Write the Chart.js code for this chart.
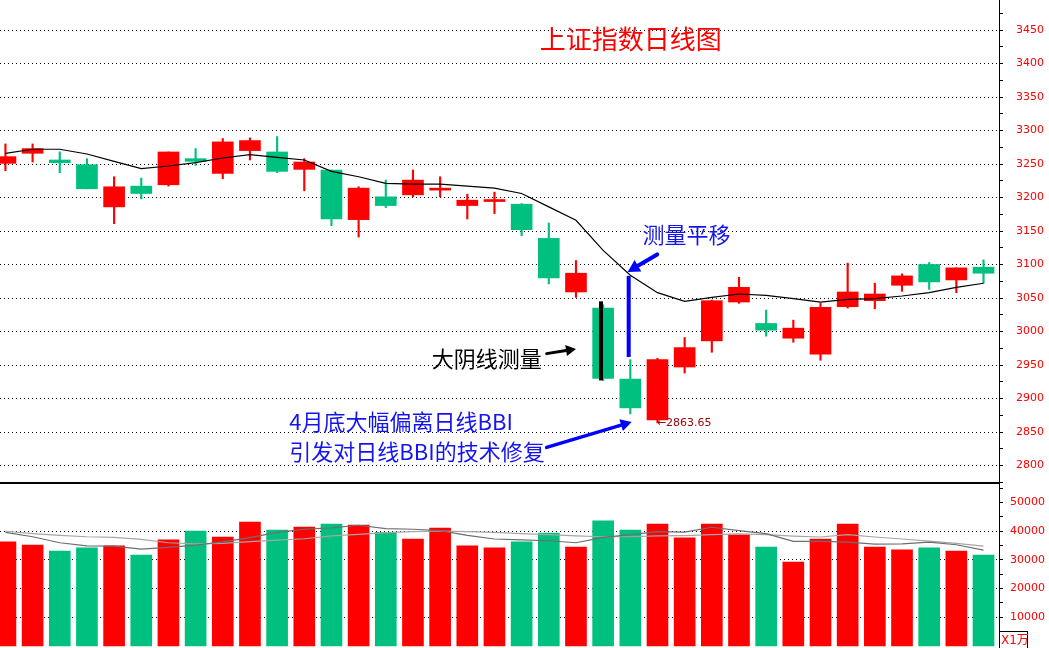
<!DOCTYPE html>
<html>
<head>
<meta charset="utf-8">
<script src="https://cdn.jsdelivr.net/npm/chart.js@4.4.1/dist/chart.umd.min.js"></script>
<style>
  html, body { margin: 0; padding: 0; background: #fff; }
  #wrap { position: relative; width: 1049px; height: 648px; overflow: hidden; }
  #price { position: absolute; left: 0; top: 0; }
  #vol { position: absolute; left: 0; top: 484px; }
</style>
</head>
<body>
<div id="wrap">
  <canvas id="price" width="1049" height="484"></canvas>
  <canvas id="vol" width="1049" height="164"></canvas>
</div>
<script>
// daily candles
const OPEN  = [3251, 3266, 3256, 3249, 3186, 3217, 3219, 3258, 3236, 3270, 3268, 3242, 3241, 3167, 3201, 3204, 3211, 3188, 3194,
               3190, 3139, 3059, 3035, 2929, 2868, 2947, 2986, 3044, 3012, 2990, 2966, 3037, 3046, 3069, 3100, 3077, 3096];
const HIGH  = [3280, 3280, 3268, 3258, 3231, 3229, 3268, 3273, 3288, 3289, 3291, 3258, 3241, 3216, 3226, 3241, 3231, 3205, 3208,
               3191, 3162, 3106, 3040, 2958, 2960, 2991, 3047, 3081, 3032, 3017, 3042, 3102, 3072, 3086, 3103, 3095, 3107];
const LOW   = [3240, 3253, 3237, 3213, 3161, 3198, 3217, 3248, 3228, 3256, 3237, 3210, 3158, 3141, 3185, 3201, 3201, 3168, 3176,
               3143, 3071, 3051, 2927, 2877, 2863.65, 2938, 2969, 3042, 2993, 2984, 2957, 3035, 3034, 3060, 3063, 3058, 3072];
const CLOSE = [3261, 3273, 3252, 3213, 3216, 3206, 3268, 3254, 3283, 3285, 3239, 3253, 3168, 3214, 3188, 3226, 3211, 3196, 3194,
               3152, 3080, 3087, 2930, 2886, 2958, 2976, 3046, 3066, 3002, 3005, 3036, 3059, 3056, 3083, 3074, 3095, 3087];
const BBI   = [3266, 3272, 3272, 3265, 3254, 3243, 3247, 3252, 3259, 3264, 3260, 3256, 3239, 3231, 3221, 3220, 3220, 3217, 3214,
               3206, 3186, 3166, 3121, 3084, 3058, 3045, 3051, 3056, 3054, 3049, 3044, 3048, 3049, 3053, 3058, 3066, 3072];

// volume (x1万) and its two averages
const VOLUME = [36300, 35200, 33100, 34200, 34900, 31700, 37000, 40100, 38000, 43200, 40400, 41500, 42500, 42200, 39600, 37300, 41100, 34900, 34200,
                36300, 39400, 34500, 43600, 40400, 42500, 37700, 42500, 38800, 34500, 29300, 37300, 42500, 34500, 33500, 34200, 33100, 31700];
const VOL_MA1 = [39600, 38100, 36000, 34900, 34800, 33800, 34400, 35200, 36300, 37800, 39600, 40700, 41200, 42100, 40900, 40700, 40200, 38600, 37300,
                 37000, 36700, 36000, 37900, 38800, 39900, 39700, 41400, 40200, 39200, 36500, 36500, 36200, 35500, 35600, 36200, 35300, 33400];
const VOL_MA2 = [40000, 39200, 38600, 38100, 37900, 37200, 36000, 35600, 35800, 36400, 36900, 37400, 38400, 38900, 39500, 39900, 40100, 39900, 39600,
                 39200, 38800, 38400, 38100, 38100, 38400, 38500, 38800, 39100, 38800, 38300, 38000, 38800, 38000, 37300, 36600, 35800, 34800];

const PRICE_LABELS = [2800, 2850, 2900, 2950, 3000, 3050, 3100, 3150, 3200, 3250, 3300, 3350, 3400, 3450];
const VOL_LABELS = [10000, 20000, 30000, 40000, 50000];

const UP = '#ff0000', DOWN = '#00c080';
const idx = OPEN.map((_, i) => i);
const colors = idx.map(i => CLOSE[i] >= OPEN[i] ? UP : DOWN);

// x range so that candle 0 sits just inside the left edge
const X_MIN = -0.2, X_MAX = 36.57;

const CJK = '"Noto Sans CJK SC", sans-serif';
const NOTES = [
  { text: '上证指数日线图', x: 23.02, y: 3436.6, color: '#ff0000', size: 26, align: 'center' },
  { text: '测量平移', x: 23.45, y: 3144, color: '#1414f0', size: 22, align: 'left' },
  { text: '大阴线测量', x: 15.69, y: 2959, color: '#000000', size: 22, align: 'left' },
  { text: '4月底大幅偏离日线BBI', x: 10.45, y: 2865, color: '#1414f0', size: 22, align: 'left' },
  { text: '引发对日线BBI的技术修复', x: 10.45, y: 2820, color: '#1414f0', size: 22, align: 'left' }
];

function arrow(ctx, x1, y1, x2, y2, color, width, head) {
  const a = Math.atan2(y2 - y1, x2 - x1);
  const bx = x2 - head * Math.cos(a), by = y2 - head * Math.sin(a);
  const hw = head * 0.55;
  ctx.strokeStyle = color;
  ctx.fillStyle = color;
  ctx.lineWidth = width;
  ctx.lineCap = 'round';
  ctx.beginPath();
  ctx.moveTo(x1, y1);
  ctx.lineTo(bx, by);
  ctx.stroke();
  ctx.beginPath();
  ctx.moveTo(x2, y2);
  ctx.lineTo(bx + hw * Math.sin(a), by - hw * Math.cos(a));
  ctx.lineTo(bx - hw * Math.sin(a), by + hw * Math.cos(a));
  ctx.closePath();
  ctx.fill();
}

const priceNotes = {
  id: 'priceNotes',
  afterDatasetsDraw(chart) {
    const { ctx, scales: { x, y }, chartArea } = chart;
    const px = v => x.getPixelForValue(v), py = v => y.getPixelForValue(v);
    ctx.save();

    // measuring bars: big bearish candle, and the same length moved to BBI
    ctx.lineCap = 'butt';
    ctx.lineWidth = 4;
    ctx.strokeStyle = '#000';
    ctx.beginPath(); ctx.moveTo(px(21.92), py(3045)); ctx.lineTo(px(21.92), py(2927)); ctx.stroke();
    ctx.strokeStyle = '#0000ff';
    ctx.beginPath(); ctx.moveTo(px(22.94), py(3083)); ctx.lineTo(px(22.94), py(2962)); ctx.stroke();

    arrow(ctx, px(23.99), py(3115), px(22.9), py(3089), '#0000ff', 4, 12);
    arrow(ctx, px(19.92), py(2967), px(21.0), py(2974), '#000000', 3, 10);
    arrow(ctx, px(19.92), py(2827), px(23.05), py(2865), '#0000ff', 3.5, 11);

    ctx.textBaseline = 'middle';
    NOTES.forEach(n => {
      ctx.font = n.size + 'px ' + CJK;
      ctx.fillStyle = n.color;
      ctx.textAlign = n.align;
      ctx.fillText(n.text, px(n.x), py(n.y));
    });

    // lowest price marker
    const lowIdx = LOW.indexOf(Math.min(...LOW));
    ctx.font = '11px "DejaVu Sans"';
    ctx.fillStyle = '#990000';
    ctx.textAlign = 'left';
    ctx.fillText('←' + LOW[lowIdx].toFixed(2), px(lowIdx - 0.03), py(LOW[lowIdx]));

    // panel separator
    ctx.fillStyle = '#000';
    ctx.fillRect(0, chartArea.bottom - 2, chartArea.right, 2);
    ctx.restore();
  }
};

const volNotes = {
  id: 'volNotes',
  afterDraw(chart) {
    const { ctx, chartArea } = chart;
    const left = chart.scales.y.left;
    ctx.save();
    ctx.strokeStyle = '#000';
    ctx.lineWidth = 1;
    ctx.strokeRect(left + 0.5, chartArea.bottom - 16.5, 28, 17);
    ctx.font = '12px "DejaVu Sans", ' + CJK;
    ctx.fillStyle = '#ff0000';
    ctx.textBaseline = 'middle';
    ctx.textAlign = 'left';
    ctx.fillText('X1万', left + 2, chartArea.bottom - 7.5);
    ctx.restore();
  }
};

function rightAxis(labels, step, min, max, padding, gridOn) {
  const ticks = [];
  labels.forEach(v => { ticks.push(v - step / 2); ticks.push(v); });
  ticks.push(labels[labels.length - 1] + step / 2);
  return {
    position: 'right',
    min: min,
    max: max,
    afterBuildTicks: s => { s.ticks = ticks.filter(v => v > min && v < max).map(v => ({ value: v })); },
    afterFit: s => { s.width = 50; s.paddingTop = 0; s.paddingBottom = 0; },
    ticks: {
      autoSkip: false,
      padding: padding,
      color: '#ff0000',
      font: { family: 'DejaVu Sans', size: 11 },
      callback: v => labels.includes(v) ? String(v) : ''
    },
    grid: {
      color: c => (c.tick && gridOn(c.tick.value)) ? '#000' : 'rgba(0,0,0,0)',
      lineWidth: 1,
      tickLength: 4,
      tickColor: '#000'
    },
    border: { display: true, color: '#000', width: 1, dash: [1, 3] }
  };
}

const common = {
  responsive: false,
  animation: false,
  events: [],
  layout: { padding: 0 },
  plugins: { legend: { display: false }, tooltip: { enabled: false } }
};

new Chart(document.getElementById('price'), {
  type: 'bar',
  data: {
    datasets: [
      { type: 'line', data: idx.map(i => ({ x: i, y: BBI[i] })), borderColor: '#000', borderWidth: 1.2,
        pointRadius: 0, tension: 0, order: 0 },
      { data: idx.map(i => ({ x: i, y: [OPEN[i], CLOSE[i]] })), backgroundColor: colors, barThickness: 21,
        minBarLength: 2, grouped: false, order: 1 },
      { data: idx.map(i => ({ x: i, y: [LOW[i], HIGH[i]] })), backgroundColor: colors, barThickness: 1.5,
        grouped: false, order: 2 }
    ]
  },
  options: Object.assign({}, common, {
    scales: {
      x: { type: 'linear', display: false, offset: false, min: X_MIN, max: X_MAX, grid: { offset: false } },
      y: rightAxis(PRICE_LABELS, 50, 2772.4, 3494.8, 13, v => PRICE_LABELS.includes(v))
    }
  }),
  plugins: [priceNotes]
});

new Chart(document.getElementById('vol'), {
  type: 'bar',
  data: {
    datasets: [
      { type: 'line', data: idx.map(i => ({ x: i, y: VOL_MA1[i] })), borderColor: '#6e6e6e', borderWidth: 1.2,
        pointRadius: 0, order: 0 },
      { type: 'line', data: idx.map(i => ({ x: i, y: VOL_MA2[i] })), borderColor: '#a6a6a6', borderWidth: 1.2,
        pointRadius: 0, order: 0 },
      { data: idx.map(i => ({ x: i, y: VOLUME[i] })), backgroundColor: colors, barThickness: 21, grouped: false, order: 1 }
    ]
  },
  options: Object.assign({}, common, {
    scales: {
      x: { type: 'linear', display: false, offset: false, min: X_MIN, max: X_MAX, grid: { offset: false } },
      y: rightAxis(VOL_LABELS, 10000, -700, 56485, 7, v => v >= 10000 && v <= 40000 && v % 10000 === 0)
    }
  }),
  plugins: [volNotes]
});
</script>
</body>
</html>
